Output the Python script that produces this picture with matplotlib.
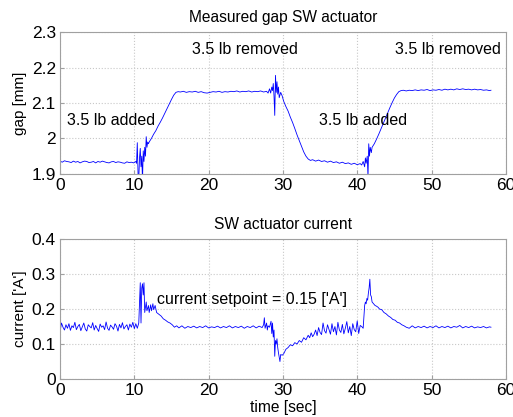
import numpy as np
import matplotlib
matplotlib.use('Agg')
import matplotlib.pyplot as plt
from matplotlib.ticker import FuncFormatter

plt.rcParams['font.family'] = ['Liberation Sans', 'DejaVu Sans']

# measured gap [mm] vs time [sec]
gap_t = [0.0, 0.3, 0.6, 0.9, 1.2, 1.5, 1.8, 2.1, 2.4, 2.7, 3.0, 3.3, 3.6, 3.9, 4.2, 4.5, 4.8,
         5.1, 5.4, 5.7, 6.0, 6.3, 6.6, 6.9, 7.2, 7.5, 7.8, 8.1, 8.4, 8.7, 9.0, 9.3, 9.6, 9.9, 10.2,
         10.3, 10.4, 10.5, 10.6, 10.7, 10.8, 10.9, 11.0, 11.1, 11.2, 11.3, 11.4, 11.5, 11.6, 11.7,
         11.8, 11.9, 12.0,
         12.3, 12.6, 12.9, 13.2, 13.5, 13.8, 14.1, 14.4, 14.7, 15.0, 15.3, 15.6, 15.9,
         16.2, 16.6, 17.0, 17.4, 17.8, 18.2, 18.6, 19.0, 19.4, 19.8, 20.2, 20.6, 21.0, 21.4, 21.8,
         22.2, 22.6, 23.0, 23.4, 23.8, 24.2, 24.6, 25.0, 25.4, 25.8, 26.2, 26.6, 27.0, 27.4, 27.8,
         28.0, 28.2, 28.35, 28.5, 28.6, 28.7, 28.8, 28.9, 29.0, 29.1, 29.2, 29.3, 29.4, 29.5, 29.7,
         29.9, 30.1,
         30.4, 30.7, 31.0, 31.3, 31.6, 31.9, 32.2, 32.5, 32.8, 33.1, 33.4, 33.7, 34.0,
         34.4, 34.8, 35.2, 35.6, 36.0, 36.4, 36.8, 37.2, 37.6, 38.0, 38.4, 38.8, 39.2, 39.6, 40.0,
         40.4,
         40.6, 40.8, 41.0, 41.1, 41.2, 41.35, 41.45, 41.55, 41.65, 41.75, 41.9, 42.0,
         42.3, 42.6, 42.9, 43.2, 43.5, 43.8, 44.1, 44.4, 44.7, 45.0, 45.3, 45.6, 45.9, 46.2,
         46.6, 47.0, 47.4, 47.8, 48.2, 48.6, 49.0, 49.4, 49.8, 50.2, 50.6, 51.0, 51.4, 51.8, 52.2,
         52.6, 53.0, 53.4, 53.8, 54.2, 54.6, 55.0, 55.4, 55.8, 56.2, 56.6, 57.0, 57.4, 57.8, 58.0]
gap_mm = [1.936, 1.933, 1.937, 1.935, 1.934, 1.932, 1.936, 1.933, 1.935, 1.931, 1.934, 1.936,
          1.935, 1.932, 1.933, 1.935, 1.931, 1.935, 1.933, 1.936, 1.934, 1.932, 1.931, 1.934,
          1.935, 1.932, 1.934, 1.933, 1.931, 1.930, 1.934, 1.932, 1.933, 1.931, 1.935,
          1.930, 1.988, 1.900, 1.885, 1.945, 1.972, 1.920, 1.950, 1.880, 1.965, 1.935, 1.975,
          1.950, 2.005, 1.975, 1.990, 1.985, 1.990,
          2.000, 2.012, 2.022, 2.035, 2.046, 2.058, 2.071, 2.084, 2.097, 2.110, 2.122, 2.130, 2.132,
          2.131, 2.133, 2.130, 2.132, 2.131, 2.133, 2.130, 2.132, 2.129, 2.128, 2.130, 2.132, 2.131,
          2.133, 2.130, 2.132, 2.131, 2.133, 2.132, 2.134, 2.131, 2.133, 2.132, 2.134, 2.131, 2.133,
          2.132, 2.134, 2.131, 2.133,
          2.128, 2.140, 2.128, 2.145, 2.135, 2.155, 2.120, 2.065, 2.178, 2.130, 2.160, 2.125,
          2.145, 2.115, 2.130, 2.120, 2.105,
          2.090, 2.077, 2.060, 2.045, 2.028, 2.010, 1.994, 1.978, 1.962, 1.950, 1.942, 1.938, 1.940,
          1.936, 1.939, 1.935, 1.937, 1.933, 1.936, 1.932, 1.934, 1.930, 1.933, 1.929, 1.931,
          1.927, 1.930, 1.926, 1.929,
          1.925, 1.935, 1.920, 1.945, 1.930, 1.950, 1.890, 1.985, 1.950, 1.975, 1.960, 1.975,
          1.985, 1.998, 2.012, 2.027, 2.042, 2.057, 2.072, 2.087, 2.101, 2.114, 2.124, 2.132,
          2.135, 2.136,
          2.134, 2.136, 2.135, 2.137, 2.135, 2.137, 2.136, 2.138, 2.135, 2.137, 2.136, 2.138,
          2.136, 2.139, 2.137, 2.139, 2.137, 2.140, 2.138, 2.140, 2.138, 2.139, 2.137, 2.139,
          2.137, 2.138, 2.136, 2.137, 2.135, 2.136]

# actuator current ['A'] vs time [sec]
cur_t = [0.0, 0.2, 0.4, 0.6, 0.8, 1.0, 1.2, 1.4, 1.6, 1.8, 2.0, 2.2, 2.4, 2.6, 2.8, 3.0, 3.2,
         3.4, 3.6, 3.8, 4.0, 4.2, 4.4, 4.6, 4.8, 5.0, 5.2, 5.4, 5.6, 5.8, 6.0, 6.2, 6.4, 6.6, 6.8,
         7.0, 7.2, 7.4, 7.6, 7.8, 8.0, 8.2, 8.4, 8.6, 8.8, 9.0, 9.2, 9.4, 9.6, 9.8, 10.0, 10.2,
         10.4, 10.6, 10.7, 10.8, 10.9, 11.0, 11.1, 11.2, 11.3, 11.4, 11.5, 11.6, 11.7, 11.9, 12.0,
         12.2, 12.3, 12.5, 12.6, 12.8, 13.0, 13.3, 13.6, 13.9, 14.2, 14.5, 14.8, 15.1, 15.4, 15.7,
         16.0, 16.4, 16.8, 17.2, 17.6, 18.0, 18.4, 18.8, 19.2, 19.6, 20.0, 20.4, 20.8, 21.2, 21.6,
         22.0, 22.4, 22.8, 23.2, 23.6, 24.0, 24.4, 24.8, 25.2, 25.6, 26.0, 26.4, 26.8, 27.2,
         27.4, 27.5, 27.6, 27.8, 27.9, 28.0, 28.2, 28.4, 28.5, 28.6, 28.7, 28.8, 28.9, 29.0, 29.1,
         29.2, 29.3, 29.4, 29.6, 29.7, 29.9, 30.1,
         30.4, 30.7, 31.0, 31.3, 31.6, 31.9, 32.2, 32.5, 32.8, 33.1, 33.4, 33.6, 33.8, 34.0, 34.2,
         34.4, 34.6, 34.8, 35.0, 35.2, 35.4, 35.6, 35.8, 36.0, 36.2, 36.4, 36.6, 36.8, 37.0, 37.2,
         37.4, 37.6, 37.8, 38.0, 38.2, 38.4, 38.6, 38.8, 39.0, 39.2, 39.4, 39.6, 39.8, 40.0, 40.2,
         40.4, 40.6,
         40.8, 40.9, 41.0, 41.1, 41.2, 41.3, 41.4, 41.5, 41.6, 41.7, 41.8, 41.9, 42.0, 42.2, 42.4,
         42.6, 42.8, 43.0, 43.3, 43.6, 43.9, 44.2, 44.5, 44.8, 45.1, 45.4, 45.7, 46.0, 46.3, 46.6,
         47.0, 47.4, 47.8, 48.2, 48.6, 49.0, 49.4, 49.8, 50.2, 50.6, 51.0, 51.4, 51.8, 52.2, 52.6,
         53.0, 53.4, 53.8, 54.2, 54.6, 55.0, 55.4, 55.8, 56.2, 56.6, 57.0, 57.4, 57.8, 58.0]
cur_a = [0.135, 0.160, 0.148, 0.140, 0.155, 0.145, 0.158, 0.139, 0.152, 0.147, 0.162, 0.141,
         0.150, 0.156, 0.138, 0.149, 0.160, 0.143, 0.137, 0.155, 0.150, 0.146, 0.161, 0.140,
         0.153, 0.144, 0.136, 0.157, 0.148, 0.152, 0.141, 0.163, 0.145, 0.139, 0.154, 0.149,
         0.142, 0.158, 0.151, 0.137, 0.156, 0.146, 0.161, 0.143, 0.150, 0.155, 0.140, 0.157,
         0.148, 0.162, 0.144, 0.158,
         0.145, 0.160, 0.220, 0.275, 0.160, 0.260, 0.272, 0.240, 0.275, 0.190, 0.205, 0.220,
         0.195, 0.210, 0.190, 0.212, 0.195, 0.215, 0.198, 0.210, 0.190, 0.185, 0.180, 0.172,
         0.168, 0.163, 0.160, 0.155, 0.148, 0.152,
         0.146, 0.152, 0.145, 0.150, 0.147, 0.151, 0.146, 0.150, 0.147, 0.152, 0.146, 0.149,
         0.147, 0.151, 0.146, 0.150, 0.147, 0.152, 0.146, 0.150, 0.147, 0.151, 0.145, 0.150,
         0.147, 0.152, 0.146, 0.151, 0.147,
         0.155, 0.175, 0.145, 0.160, 0.140, 0.152, 0.148, 0.165, 0.130, 0.160, 0.120, 0.140,
         0.065, 0.110, 0.100, 0.115, 0.090, 0.075, 0.050, 0.070, 0.068, 0.072,
         0.085, 0.090, 0.098, 0.095, 0.104, 0.100, 0.110, 0.105, 0.118, 0.112,
         0.125, 0.118, 0.132, 0.121, 0.128, 0.140, 0.124, 0.147, 0.133, 0.127, 0.160, 0.138,
         0.131, 0.155, 0.142, 0.128, 0.158, 0.135, 0.150, 0.126, 0.162, 0.140, 0.133, 0.156,
         0.129, 0.145, 0.164, 0.132, 0.150, 0.124, 0.158, 0.141, 0.135, 0.166, 0.130, 0.153,
         0.150,
         0.145, 0.180, 0.210, 0.220, 0.215, 0.230, 0.225, 0.245, 0.260, 0.285, 0.240, 0.235,
         0.220, 0.215, 0.210, 0.208, 0.205, 0.200, 0.198, 0.190, 0.186, 0.180, 0.176, 0.170,
         0.168, 0.162, 0.160, 0.155, 0.152, 0.148,
         0.145, 0.152, 0.146, 0.150, 0.147, 0.151, 0.146, 0.150, 0.147, 0.152, 0.146, 0.150,
         0.147, 0.151, 0.146, 0.150, 0.148, 0.153, 0.146, 0.150, 0.147, 0.151, 0.146, 0.149,
         0.147, 0.150, 0.146, 0.149, 0.148]

gap_notes = [("3.5 lb added", 1.0, 2.05), ("3.5 lb removed", 17.8, 2.25),
             ("3.5 lb added", 34.9, 2.05), ("3.5 lb removed", 45.1, 2.25)]
cur_note = ("current setpoint = 0.15 ['A']", 13.0, 0.228)

fmt = FuncFormatter(lambda v, p: '%g' % round(v, 3))


def style(ax):
    ax.grid(True, linestyle=':', color='#c8c8c8', linewidth=0.8)
    for s in ax.spines.values():
        s.set_color('#a0a0a0')
        s.set_linewidth(0.8)
    ax.tick_params(direction='in', length=3, color='#a0a0a0', labelsize=12.5, pad=3)
    ax.yaxis.set_major_formatter(fmt)
    ax.xaxis.set_major_formatter(fmt)


fig = plt.figure(figsize=(5.13, 4.17), dpi=100)
ax1 = fig.add_axes([0.117, 0.583, 0.869, 0.340])
ax2 = fig.add_axes([0.117, 0.091, 0.869, 0.336])

ax1.plot(gap_t, gap_mm, color='#0000ff', linewidth=0.6)
ax1.set_xlim(0, 60)
ax1.set_ylim(1.9, 2.3)
ax1.set_xticks([0, 10, 20, 30, 40, 50, 60])
ax1.set_yticks([1.9, 2.0, 2.1, 2.2, 2.3])
ax1.set_ylabel('gap [mm]', fontsize=11, labelpad=3)
ax1.set_title('Measured gap SW actuator', fontsize=11.2, pad=7)
for txt, x, y in gap_notes:
    ax1.text(x, y, txt, fontsize=11.5, va='center', ha='left')
style(ax1)

ax2.plot(cur_t, cur_a, color='#0000ff', linewidth=0.6)
ax2.set_xlim(0, 60)
ax2.set_ylim(0, 0.4)
ax2.set_xticks([0, 10, 20, 30, 40, 50, 60])
ax2.set_yticks([0, 0.1, 0.2, 0.3, 0.4])
ax2.set_ylabel("current ['A']", fontsize=11, labelpad=3)
ax2.set_xlabel('time [sec]', fontsize=11.2, labelpad=1)
ax2.set_title('SW actuator current', fontsize=11.2, pad=7)
ax2.text(cur_note[1], cur_note[2], cur_note[0], fontsize=11.5, va='center', ha='left')
style(ax2)

fig.savefig('out.png', dpi=100)
